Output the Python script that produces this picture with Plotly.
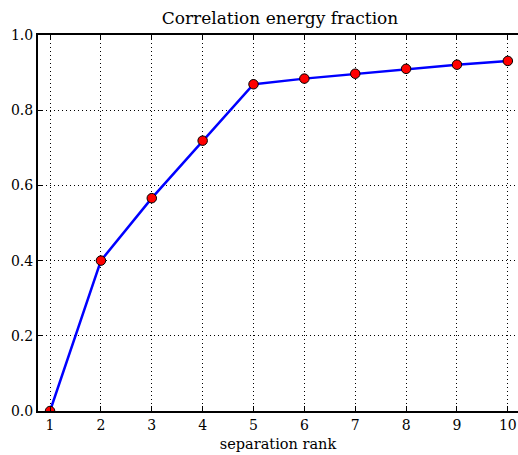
import plotly.graph_objects as go

ranks = [1, 2, 3, 4, 5, 6, 7, 8, 9, 10]
fraction = [0.0, 0.400, 0.566, 0.719, 0.869, 0.884, 0.897, 0.910, 0.921, 0.931]
y_ticks = [0.0, 0.2, 0.4, 0.6, 0.8, 1.0]

font = "DejaVu Serif"
W, H = 518, 455

fig = go.Figure()
fig.add_trace(go.Scatter(
    x=ranks, y=fraction, mode="lines+markers",
    line=dict(color="#0000ff", width=2.5),
    marker=dict(color="#ff0000", size=9.5, line=dict(color="black", width=1)),
))

fig.update_layout(
    width=W, height=H,
    margin=dict(l=38, r=0, t=35, b=44),
    paper_bgcolor="white", plot_bgcolor="white",
    showlegend=False,
    title=dict(text="Correlation energy fraction", x=280 / W, xanchor="center",
               y=1 - 18 / H, yanchor="middle",
               font=dict(family=font, size=17, color="black")),
    font=dict(family=font, size=14, color="black"),
)
fig.update_xaxes(
    range=[0.763, 10.2], tickvals=ranks, ticks="inside", ticklen=5,
    tickcolor="black", showline=True, linecolor="black", linewidth=2,
    mirror="ticks", showgrid=True, gridcolor="black", griddash="1px,3px",
    gridwidth=1, zeroline=False,
    title=dict(text="separation rank", font=dict(family=font, size=14.5), standoff=7),
)
fig.update_yaxes(
    range=[0, 1], tickvals=y_ticks, tickformat=".1f", ticks="inside", ticklen=5,
    tickcolor="black", showline=True, linecolor="black", linewidth=2,
    mirror=False, showgrid=True, gridcolor="black", griddash="1px,3px",
    gridwidth=1, zeroline=False,
)

fig.write_html(
    "out.html",
    config={"displayModeBar": False},
    post_script="document.body.style.margin='0';document.body.style.overflow='hidden';",
)
